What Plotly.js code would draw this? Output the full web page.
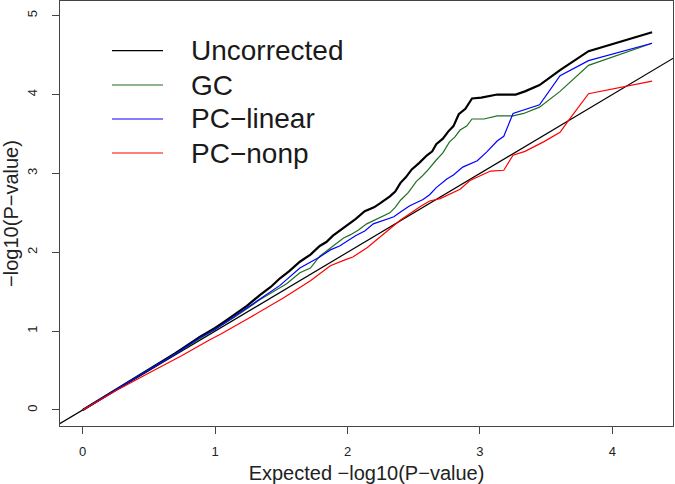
<!DOCTYPE html>
<html>
<head>
<meta charset="utf-8">
<script src="https://cdn.plot.ly/plotly-3.0.1.min.js"></script>
<style>html,body{margin:0;padding:0;background:#fff;}#chart{width:675px;height:484px;}</style>
</head>
<body>
<div id="chart"></div>
<script>
// Series names
const seriesNames = ["Uncorrected", "GC", "PC\u2212linear", "PC\u2212nonp"];

// Uncorrected (expected vs observed -log10 P)
const uncorrX = [0, 0.25, 0.5, 0.7, 0.887, 1.0, 1.07, 1.14, 1.24, 1.34, 1.42, 1.49, 1.56, 1.64, 1.72, 1.79, 1.84, 1.89, 1.94, 1.99, 2.06, 2.13, 2.2, 2.245, 2.32, 2.36, 2.40, 2.44, 2.485, 2.54, 2.60, 2.64, 2.67, 2.72, 2.76, 2.80, 2.84, 2.89, 2.94, 3.01, 3.07, 3.13, 3.27, 3.34, 3.45, 3.605, 3.82, 4.30];
const uncorrY = [0, 0.26, 0.51, 0.72, 0.93, 1.04, 1.12, 1.2, 1.32, 1.46, 1.56, 1.67, 1.76, 1.88, 1.97, 2.08, 2.13, 2.21, 2.27, 2.33, 2.42, 2.52, 2.57, 2.62, 2.71, 2.77, 2.88, 2.95, 3.05, 3.13, 3.23, 3.28, 3.37, 3.44, 3.53, 3.60, 3.75, 3.82, 3.95, 3.96, 3.98, 4.00, 4.00, 4.04, 4.12, 4.31, 4.55, 4.79];

// GC
const gcX = [0, 0.25, 0.5, 0.7, 0.887, 1.0, 1.14, 1.34, 1.54, 1.64, 1.69, 1.72, 1.79, 1.9, 1.97, 2.02, 2.08, 2.145, 2.245, 2.32, 2.36, 2.40, 2.46, 2.52, 2.56, 2.60, 2.67, 2.72, 2.77, 2.81, 2.85, 2.90, 2.94, 3.03, 3.13, 3.25, 3.33, 3.45, 3.605, 3.82, 4.30];
const gcY = [0, 0.26, 0.51, 0.71, 0.91, 1.02, 1.17, 1.40, 1.60, 1.74, 1.78, 1.80, 1.95, 2.09, 2.18, 2.22, 2.28, 2.36, 2.44, 2.50, 2.57, 2.66, 2.76, 2.90, 2.96, 3.03, 3.17, 3.26, 3.40, 3.46, 3.55, 3.60, 3.69, 3.69, 3.73, 3.73, 3.76, 3.84, 4.04, 4.37, 4.65];

// PC-linear
const pclinX = [0, 0.25, 0.5, 0.7, 0.887, 1.0, 1.14, 1.34, 1.49, 1.64, 1.72, 1.79, 1.87, 1.94, 2.06, 2.13, 2.195, 2.27, 2.35, 2.40, 2.47, 2.57, 2.62, 2.67, 2.75, 2.80, 2.87, 2.98, 3.05, 3.13, 3.18, 3.25, 3.45, 3.605, 3.82, 4.30];
const pclinY = [0, 0.26, 0.51, 0.71, 0.92, 1.02, 1.18, 1.41, 1.58, 1.80, 1.87, 1.94, 2.03, 2.08, 2.21, 2.27, 2.36, 2.40, 2.45, 2.51, 2.59, 2.67, 2.73, 2.82, 2.93, 2.98, 3.08, 3.16, 3.27, 3.41, 3.47, 3.76, 3.87, 4.24, 4.43, 4.65];

// PC-nonp
const pcnonpX = [0, 0.25, 0.5, 0.75, 0.96, 1.04, 1.26, 1.515, 1.72, 1.87, 1.99, 2.04, 2.15, 2.245, 2.40, 2.55, 2.62, 2.70, 2.85, 2.925, 3.08, 3.18, 3.25, 3.34, 3.48, 3.605, 3.668, 3.82, 4.30];
const pcnonpY = [0, 0.245, 0.47, 0.69, 0.89, 0.96, 1.17, 1.42, 1.64, 1.83, 1.91, 1.94, 2.06, 2.19, 2.41, 2.58, 2.65, 2.68, 2.80, 2.91, 3.03, 3.04, 3.23, 3.28, 3.40, 3.52, 3.67, 4.01, 4.17];

// Reference line y = x
const refX = [-1, 6];
const refY = [-1, 6];

// Axis ticks
const xTicks = [0, 1, 2, 3, 4];
const yTicks = [0, 1, 2, 3, 4, 5];

const colors = ["#000000", "#1f6f1f", "#0000ff", "#ff0000"];
const widths = [2.2, 1.2, 1.2, 1.2];
const xs = [uncorrX, gcX, pclinX, pcnonpX];
const ys = [uncorrY, gcY, pclinY, pcnonpY];

const traces = [{
  x: refX, y: refY, mode: "lines", type: "scatter",
  line: {color: "#000000", width: 1.2}, showlegend: false, hoverinfo: "skip"
}];
for (let i = 0; i < 4; i++) {
  traces.push({
    x: xs[i], y: ys[i], mode: "lines", type: "scatter", name: seriesNames[i],
    line: {color: colors[i], width: widths[i]}, showlegend: false
  });
}

const W = 675, H = 484;
const mL = 60, mR = 2, mT = 1, mB = 58;
const pw = W - mL - mR, ph = H - mT - mB;
const px = v => (v - mL) / pw;
const py = v => (H - mB - v) / ph;

// manual legend (R-style, no box)
const legRows = [50.7, 85, 119, 153];
const shapes = [], annotations = [];
for (let i = 0; i < 4; i++) {
  shapes.push({type: "line", xref: "paper", yref: "paper",
    x0: px(112), x1: px(163), y0: py(legRows[i]), y1: py(legRows[i]),
    line: {color: colors[i], width: 1.2}});
  annotations.push({xref: "paper", yref: "paper", x: px(189), y: py(legRows[i]),
    xanchor: "left", yanchor: "middle", showarrow: false, text: seriesNames[i],
    font: {size: 28, color: "#1a1a1a", family: "Liberation Sans, Arial, sans-serif"}});
}

const layout = {
  width: W, height: H,
  margin: {l: mL, r: mR, t: mT, b: mB, pad: 0},
  paper_bgcolor: "#ffffff", plot_bgcolor: "#ffffff",
  font: {family: "Liberation Sans, Arial, sans-serif", color: "#222222"},
  showlegend: false,
  xaxis: {
    range: [-0.1715, 4.458], tickvals: xTicks, ticktext: xTicks.map(String),
    ticks: "outside", ticklen: 7, tickwidth: 1, tickcolor: "#444",
    ticklabelstandoff: 6,
    showgrid: false, zeroline: false, showline: true, mirror: true,
    linecolor: "#444", linewidth: 1.3,
    tickfont: {size: 13, color: "#222"},
    title: {text: "Expected \u2212log10(P\u2212value)", font: {size: 20, color: "#222"}, standoff: 14},
    automargin: false
  },
  yaxis: {
    range: [-0.203, 5.186], tickvals: yTicks, ticktext: yTicks.map(String),
    ticks: "outside", ticklen: 7, tickwidth: 1, tickcolor: "#444", tickangle: -90,
    ticklabelstandoff: 10,
    showgrid: false, zeroline: false, showline: true, mirror: true,
    linecolor: "#444", linewidth: 1.3,
    tickfont: {size: 13, color: "#222"},
    title: {text: "\u2212log10(P\u2212value)", font: {size: 20, color: "#222"}, standoff: 6},
    automargin: false
  },
  shapes: shapes,
  annotations: annotations
};

Plotly.newPlot("chart", traces, layout, {displayModeBar: false, staticPlot: true});
</script>
</body>
</html>
